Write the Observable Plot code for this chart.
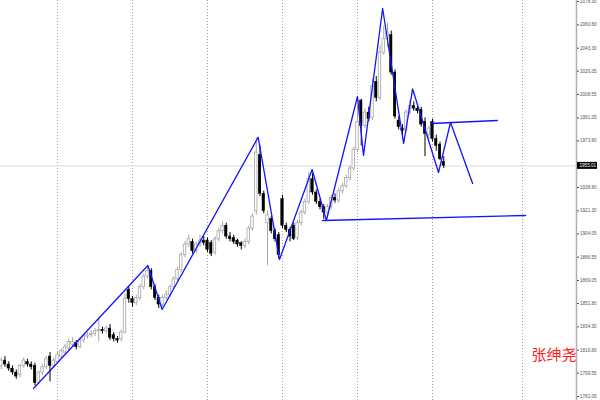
<!DOCTYPE html>
<html><head><meta charset="utf-8">
<script src="https://cdn.jsdelivr.net/npm/d3@7"></script>
<script src="https://cdn.jsdelivr.net/npm/@observablehq/plot@0.6"></script>
<style>body{margin:0;background:#fff}</style>
</head><body><div id="chart"></div>
<script>
// OHLC per bar
const open = [1805,1809,1806,1803,1800,1798,1805,1808,1806,1805,1792,1800,1804,1812,1805,1808,1812,1815,1818,1821,
1822,1819,1824,1827,1828,1829,1831,1832,1831,1833,1828,1825,1825,1830,1862,1855,1852,1856,1864,1872,
1876,1864,1856,1851,1856,1858,1864,1870,1877,1888,1896,1898,1891,1896,1899,1899,1897,1890,1900,1906,
1910,1902,1901,1899,1897,1895,1898,1908,1921,1963,1934,1912,1915,1906,1903,1930,1910,1907,1910,1901,
1912,1920,1928,1945,1935,1928,1924,1920,1924,1931,1929,1936,1940,1946,1953,1967,2004,1985,1995,1991,
2018,2006,2040,2050,2053,2025,1989,1983,1982,1995,2000,1998,1997,1988,1978,1988,1975,1971,1958];
const high = [1811,1812,1808,1805,1802,1806,1811,1810,1808,1807,1801,1806,1812,1815,1811,1815,1818,1821,1825,1826,
1824,1826,1829,1830,1831,1833,1841,1834,1835,1836,1830,1827,1832,1859,1864,1857,1858,1866,1874,1880,
1878,1866,1858,1858,1861,1866,1872,1879,1890,1898,1903,1900,1898,1903,1902,1901,1899,1902,1908,1913,
1912,1905,1903,1900,1898,1900,1910,1919,1976,1970,1936,1921,1917,1908,1905,1933,1912,1909,1912,1914,
1922,1930,1950,1949,1937,1930,1926,1926,1933,1934,1938,1942,1948,1955,1969,2000,2005,1998,1999,2020,
2022,2045,2060,2062,2056,2027,1992,1986,1997,2004,2003,2001,1999,1991,1985,1990,1978,1973,1962];
const low = [1802,1804,1801,1798,1795,1796,1803,1804,1802,1790,1791,1798,1802,1793,1803,1806,1810,1813,1816,1819,
1817,1818,1822,1825,1826,1827,1823,1829,1829,1824,1823,1822,1823,1829,1852,1849,1850,1854,1862,1870,
1862,1854,1848,1849,1854,1856,1862,1868,1875,1886,1894,1889,1889,1894,1895,1890,1887,1888,1898,1904,
1900,1898,1896,1894,1892,1893,1896,1906,1918,1932,1919,1880,1904,1898,1885,1908,1905,1898,1899,1899,
1910,1918,1926,1933,1926,1922,1915,1916,1922,1927,1927,1934,1938,1944,1951,1965,1970,1983,1988,1989,
2003,2004,2038,2044,2023,1990,1982,1975,1980,1993,1996,1994,1984,1962,1974,1973,1966,1959,1953];
const close = [1809,1806,1803,1800,1797,1805,1809,1806,1804,1792,1800,1804,1810,1805,1809,1813,1816,1819,1823,1823,
1819,1824,1827,1828,1829,1831,1832,1831,1833,1826,1825,1824,1830,1855,1855,1852,1856,1864,1872,1876,
1864,1856,1851,1856,1858,1864,1870,1877,1888,1896,1900,1891,1896,1899,1897,1892,1889,1900,1906,1910,
1902,1900,1898,1896,1895,1898,1908,1917,1965,1934,1921,1918,1906,1900,1888,1910,1907,1902,1900,1912,
1920,1928,1945,1935,1928,1924,1920,1924,1931,1929,1936,1940,1946,1953,1967,1988,1985,1995,1990,2015,
2006,2040,2050,2055,2025,1992,1984,1981,1995,2000,1998,1996,1986,1979,1983,1975,1970,1960,1955.01];

// blue zigzag (bar position, price)
const zigBar = [8.6,39.1,42.9,68.5,74.2,82.9,86.7,95.0,96.6,101.7,107.3,109.7,116.6,119.8,125.7];
const zigPrice = [1788.05,1880.3,1847.3,1976.5,1884.8,1952.3,1914.05,2007.05,1962.8,2073.05,1971.8,2012.7,1950.05,1987.55,1941.8];
// horizontal-ish levels
const upperBar = [114.5,132.3], upperPrice = [1986.8,1989.05];
const lowerBar = [85.7,139.8], lowerPrice = [1914.05,1917.8];

// price axis labels
const priceTicks = [2078.30,2060.80,2043.30,2026.05,2008.55,1991.05,1973.80,1938.80,1921.30,1904.05,1886.55,1869.05,1851.80,1834.30,1816.80,1799.55,1782.05];
const lastPrice = 1955.01;
const gridBars = [15,35,55,75,95,115,139];
const author = "张绅尧";

const xDomain = [-0.2, 153.4];
const yDomain = [1779.05, 2079.05];

const candles = open.map((o,i)=>({i, o, h:high[i], l:low[i], c:close[i], up: close[i] >= o}));
const zig = zigBar.map((b,k)=>({b, p:zigPrice[k]}));
const levels = [
  ...upperBar.map((b,k)=>({g:"u", b, p:upperPrice[k]})),
  ...lowerBar.map((b,k)=>({g:"l", b, p:lowerPrice[k]}))
];
const bullC = "#a6a6a6";
const blue = "#1414ff";

const chart = Plot.plot({
  width: 600, height: 400,
  marginTop: 0, marginBottom: 0, marginLeft: 0, marginRight: 24,
  style: {background: "white", fontFamily: "Liberation Sans, Arial, sans-serif"},
  x: {domain: xDomain, axis: null},
  y: {domain: yDomain, axis: null, label: null},
  marks: [
    Plot.ruleX(gridBars, {stroke: "#8a8a8a", strokeDasharray: "1,2", strokeWidth: 0.8}),
    Plot.ruleY([lastPrice], {stroke: "#dcdcdc", strokeWidth: 1}),
    Plot.ruleX(candles, {filter: d=>d.up, x: "i", y1: "l", y2: "h", stroke: bullC, strokeWidth: 1}),
    Plot.ruleX(candles, {filter: d=>!d.up, x: "i", y1: "l", y2: "h", stroke: "#000", strokeWidth: 1}),
    Plot.rect(candles, {filter: d=>d.up, x1: d=>d.i-0.33, x2: d=>d.i+0.33, y1: "o", y2: "c", fill: "#fff", stroke: bullC, strokeWidth: 0.8}),
    Plot.rect(candles, {filter: d=>!d.up, x1: d=>d.i-0.33, x2: d=>d.i+0.33, y1: "o", y2: "c", fill: "#000", stroke: "#000", strokeWidth: 0.5}),
    Plot.line(zig, {x: "b", y: "p", stroke: blue, strokeWidth: 1.3}),
    Plot.line(levels, {x: "b", y: "p", z: "g", stroke: blue, strokeWidth: 1.3}),
    Plot.ruleX([xDomain[1]], {stroke: "#b0b0b0", strokeWidth: 1.5}),
    Plot.axisY(priceTicks, {anchor: "right", tickSize: 2, tickPadding: 1.5, fontSize: 4.6,
      tickFormat: d=>d.toFixed(2), color: "#555", label: null}),
    Plot.rect([lastPrice], {x1: ()=>xDomain[1], x2: ()=>xDomain[1], y1: d=>d, y2: d=>d,
      insetLeft: 1, insetRight: -21, insetTop: -3.5, insetBottom: -3.5, fill: "#000"}),
    Plot.text([lastPrice], {x: ()=>xDomain[1], y: d=>d, text: d=>d.toFixed(2), textAnchor: "start",
      dx: 3, fill: "#fff", fontSize: 4.6}),
    Plot.text([author], {frameAnchor: "bottom-right", dy: -41, dx: 0, fill: "#ff1a1a", fontSize: 15,
      fontFamily: "Noto Sans CJK SC"})
  ]
});
document.getElementById("chart").appendChild(chart);
</script>
</body></html>
